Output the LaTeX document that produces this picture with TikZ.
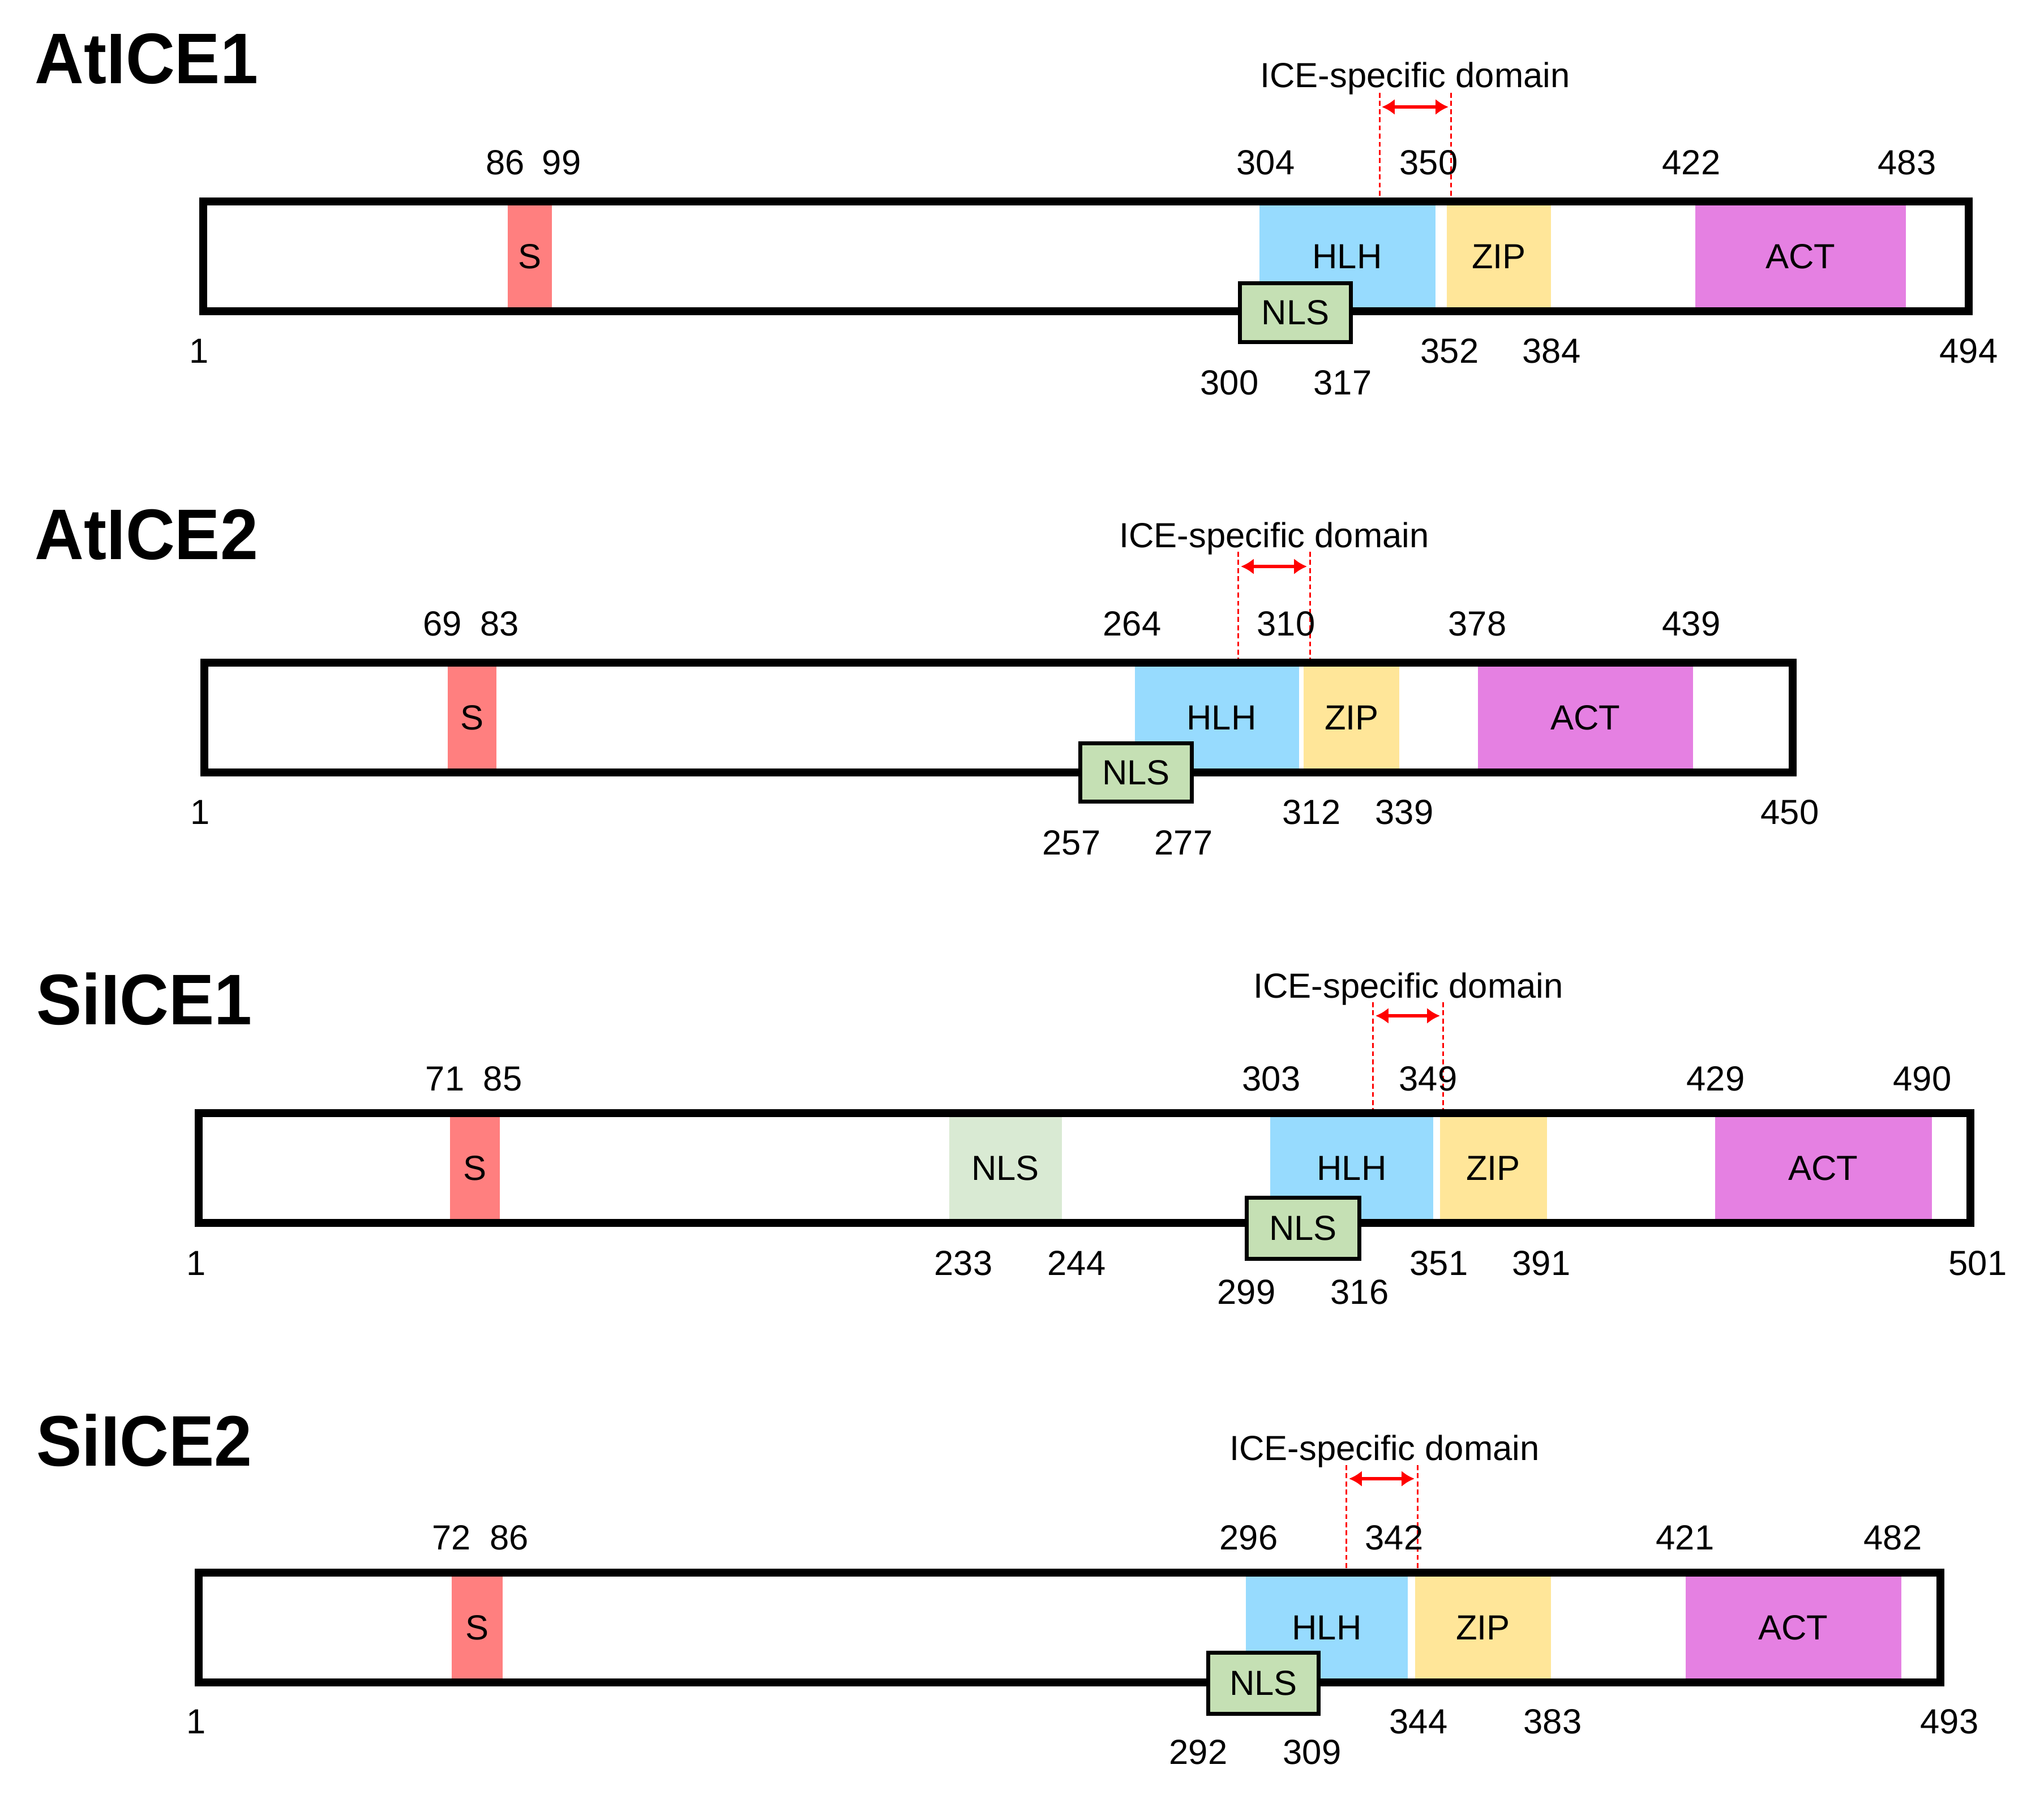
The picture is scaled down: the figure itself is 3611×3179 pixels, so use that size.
\documentclass[tikz,border=0pt]{standalone}
\usepackage{fontspec}
\setmainfont{Liberation Sans}
\newfontfamily\titlefont{Liberation Sans}[FakeStretch=0.95]
\usetikzlibrary{arrows.meta}
\definecolor{sred}{HTML}{FF7F7F}
\definecolor{hlhblue}{HTML}{97DBFE}
\definecolor{zipyel}{HTML}{FFE699}
\definecolor{actpink}{HTML}{E580E2}
\definecolor{nlsgreen}{HTML}{C5E0B4}
\definecolor{nlslight}{HTML}{D9EAD3}
\begin{document}
\begin{tikzpicture}[x=0.01cm,y=-0.01cm,
  lbl/.style={font=\fontsize{17.5}{21}\selectfont, inner sep=0, anchor=base},
  dlbl/.style={font=\fontsize{17.5}{21}\selectfont, inner sep=0, anchor=center},
  ttl/.style={font=\titlefont\bfseries\fontsize{36}{42}\selectfont, inner sep=0, anchor=base west},
  barframe/.style={draw=black, line width=3.98pt},
  nlsbox/.style={draw=black, line width=2pt, fill=nlsgreen, inner sep=0, font=\fontsize{17.5}{21}\selectfont},
  icedash/.style={draw=red, line width=0.85pt, dash pattern=on 2.5pt off 1.6pt},
  icearrow/.style={draw=red, line width=1.9pt, {Latex[length=6.5pt,width=8pt]}-{Latex[length=6.5pt,width=8pt]}},
  icetxt/.style={font=\fontsize{17.5}{21}\selectfont, inner sep=0, anchor=base}]
\useasboundingbox[fill=white] (0,0) rectangle (3611,3179);

% ================= AtICE1 =================
\node[ttl] (aT) at (61,148) {AtICE1};
\fill[white] (359,356) rectangle (3478,550);
\fill[sred] (897,363) rectangle (975,543);
\fill[hlhblue] (2225,363) rectangle (2536,543);
\fill[zipyel] (2556,363) rectangle (2740,543);
\fill[actpink] (2995,363) rectangle (3367,543);
\node[dlbl] (aS) at (936,453) {S};
\node[dlbl] (aHLH) at (2380,453) {HLH};
\node[dlbl] (aZIP) at (2648,453) {ZIP};
\node[dlbl] (aACT) at (3181,453) {ACT};
\draw[barframe] (359,356) rectangle (3478,550);
\node[nlsbox, minimum width=1.96cm, minimum height=1.04cm] (aNLS) at (2288.5,552.5) {NLS};
\node[icetxt] (aICE) at (2500,155) {ICE-specific domain};
\coordinate (aD1t) at (2437,164); \coordinate (aD1b) at (2437,349);
\coordinate (aD2t) at (2563,164); \coordinate (aD2b) at (2563,349);
\draw[icedash] (aD1t) -- (aD1b);
\draw[icedash] (aD2t) -- (aD2b);
\coordinate (aAL) at (2441,189); \coordinate (aAR) at (2559,189);
\draw[icearrow] (aAL) -- (aAR);
\node[lbl] (a86) at (893,309) {86};
\node[lbl] (a99) at (992,309) {99};
\node[lbl] (a304) at (2236,309) {304};
\node[lbl] (a350) at (2524,309) {350};
\node[lbl] (a422) at (2988,309) {422};
\node[lbl] (a483) at (3369,309) {483};
\node[lbl] (a1) at (352,641) {1};
\node[lbl] (a352) at (2561,641) {352};
\node[lbl] (a384) at (2741,641) {384};
\node[lbl] (a494) at (3478,641) {494};
\node[lbl] (a300) at (2172,697) {300};
\node[lbl] (a317) at (2372,697) {317};

% ================= AtICE2 =================
\node[ttl] (bT) at (61,988) {AtICE2};
\fill[white] (361,1171) rectangle (3167,1365);
\fill[sred] (791,1178) rectangle (877,1358);
\fill[hlhblue] (2005,1178) rectangle (2295,1358);
\fill[zipyel] (2303,1178) rectangle (2472,1358);
\fill[actpink] (2611,1178) rectangle (2991,1358);
\node[dlbl] (bS) at (834,1268) {S};
\node[dlbl] (bHLH) at (2158,1268) {HLH};
\node[dlbl] (bZIP) at (2388,1268) {ZIP};
\node[dlbl] (bACT) at (2801,1268) {ACT};
\draw[barframe] (361,1171) rectangle (3167,1365);
\node[nlsbox, minimum width=1.97cm, minimum height=1.03cm] (bNLS) at (2007,1365) {NLS};
\node[icetxt] (bICE) at (2251,967) {ICE-specific domain};
\coordinate (bD1t) at (2187,975); \coordinate (bD1b) at (2187,1164);
\coordinate (bD2t) at (2314,975); \coordinate (bD2b) at (2314,1164);
\draw[icedash] (bD1t) -- (bD1b);
\draw[icedash] (bD2t) -- (bD2b);
\coordinate (bAL) at (2192,1001); \coordinate (bAR) at (2309,1001);
\draw[icearrow] (bAL) -- (bAR);
\node[lbl] (b69) at (782,1123) {69};
\node[lbl] (b83) at (883,1123) {83};
\node[lbl] (b264) at (2000,1123) {264};
\node[lbl] (b310) at (2272,1123) {310};
\node[lbl] (b378) at (2610,1123) {378};
\node[lbl] (b439) at (2988,1123) {439};
\node[lbl] (b1) at (354,1456) {1};
\node[lbl] (b312) at (2317,1456) {312};
\node[lbl] (b339) at (2481,1456) {339};
\node[lbl] (b450) at (3162,1456) {450};
\node[lbl] (b257) at (1893,1510) {257};
\node[lbl] (b277) at (2091,1510) {277};

% ================= SiICE1 =================
\node[ttl] (cT) at (64,1810) {SiICE1};
\fill[white] (351,1967) rectangle (3481,2161);
\fill[sred] (795,1974) rectangle (883,2154);
\fill[nlslight] (1677,1974) rectangle (1876,2154);
\fill[hlhblue] (2244,1974) rectangle (2532,2154);
\fill[zipyel] (2544,1974) rectangle (2733,2154);
\fill[actpink] (3030,1974) rectangle (3413,2154);
\node[dlbl] (cS) at (839,2064) {S};
\node[dlbl] (cNLSa) at (1776,2064) {NLS};
\node[dlbl] (cHLH) at (2388,2064) {HLH};
\node[dlbl] (cZIP) at (2638,2064) {ZIP};
\node[dlbl] (cACT) at (3221,2064) {ACT};
\draw[barframe] (351,1967) rectangle (3481,2161);
\node[nlsbox, minimum width=1.99cm, minimum height=1.08cm] (cNLS) at (2302,2170.5) {NLS};
\node[icetxt] (cICE) at (2488,1763) {ICE-specific domain};
\coordinate (cD1t) at (2425,1771); \coordinate (cD1b) at (2425,1960);
\coordinate (cD2t) at (2549,1771); \coordinate (cD2b) at (2549,1960);
\draw[icedash] (cD1t) -- (cD1b);
\draw[icedash] (cD2t) -- (cD2b);
\coordinate (cAL) at (2430,1795); \coordinate (cAR) at (2544,1795);
\draw[icearrow] (cAL) -- (cAR);
\node[lbl] (c71) at (786,1927) {71};
\node[lbl] (c85) at (888,1927) {85};
\node[lbl] (c303) at (2246,1927) {303};
\node[lbl] (c349) at (2523,1927) {349};
\node[lbl] (c429) at (3031,1927) {429};
\node[lbl] (c490) at (3396,1927) {490};
\node[lbl] (c1) at (347,2253) {1};
\node[lbl] (c233) at (1702,2253) {233};
\node[lbl] (c244) at (1902,2253) {244};
\node[lbl] (c351) at (2542,2253) {351};
\node[lbl] (c391) at (2723,2253) {391};
\node[lbl] (c501) at (3494,2253) {501};
\node[lbl] (c299) at (2202,2304) {299};
\node[lbl] (c316) at (2402,2304) {316};

% ================= SiICE2 =================
\node[ttl] (dT) at (64,2590) {SiICE2};
\fill[white] (351,2779) rectangle (3428,2973);
\fill[sred] (798,2786) rectangle (888,2966);
\fill[hlhblue] (2201,2786) rectangle (2487,2966);
\fill[zipyel] (2500,2786) rectangle (2740,2966);
\fill[actpink] (2978,2786) rectangle (3359,2966);
\node[dlbl] (dS) at (843,2876) {S};
\node[dlbl] (dHLH) at (2344,2876) {HLH};
\node[dlbl] (dZIP) at (2620,2876) {ZIP};
\node[dlbl] (dACT) at (3168,2876) {ACT};
\draw[barframe] (351,2779) rectangle (3428,2973);
\node[nlsbox, minimum width=1.95cm, minimum height=1.08cm] (dNLS) at (2232,2974.5) {NLS};
\node[icetxt] (dICE) at (2446,2580) {ICE-specific domain};
\coordinate (dD1t) at (2378,2589); \coordinate (dD1b) at (2378,2772);
\coordinate (dD2t) at (2504,2589); \coordinate (dD2b) at (2504,2772);
\draw[icedash] (dD1t) -- (dD1b);
\draw[icedash] (dD2t) -- (dD2b);
\coordinate (dAL) at (2383,2613); \coordinate (dAR) at (2499,2613);
\draw[icearrow] (dAL) -- (dAR);
\node[lbl] (d72) at (798,2738) {72};
\node[lbl] (d86) at (900,2738) {86};
\node[lbl] (d296) at (2206,2738) {296};
\node[lbl] (d342) at (2463,2738) {342};
\node[lbl] (d421) at (2977,2738) {421};
\node[lbl] (d482) at (3344,2738) {482};
\node[lbl] (d1) at (347,3063) {1};
\node[lbl] (d344) at (2506,3063) {344};
\node[lbl] (d383) at (2743,3063) {383};
\node[lbl] (d493) at (3444,3063) {493};
\node[lbl] (d292) at (2117,3117) {292};
\node[lbl] (d309) at (2318,3117) {309};
\end{tikzpicture}
\end{document}
